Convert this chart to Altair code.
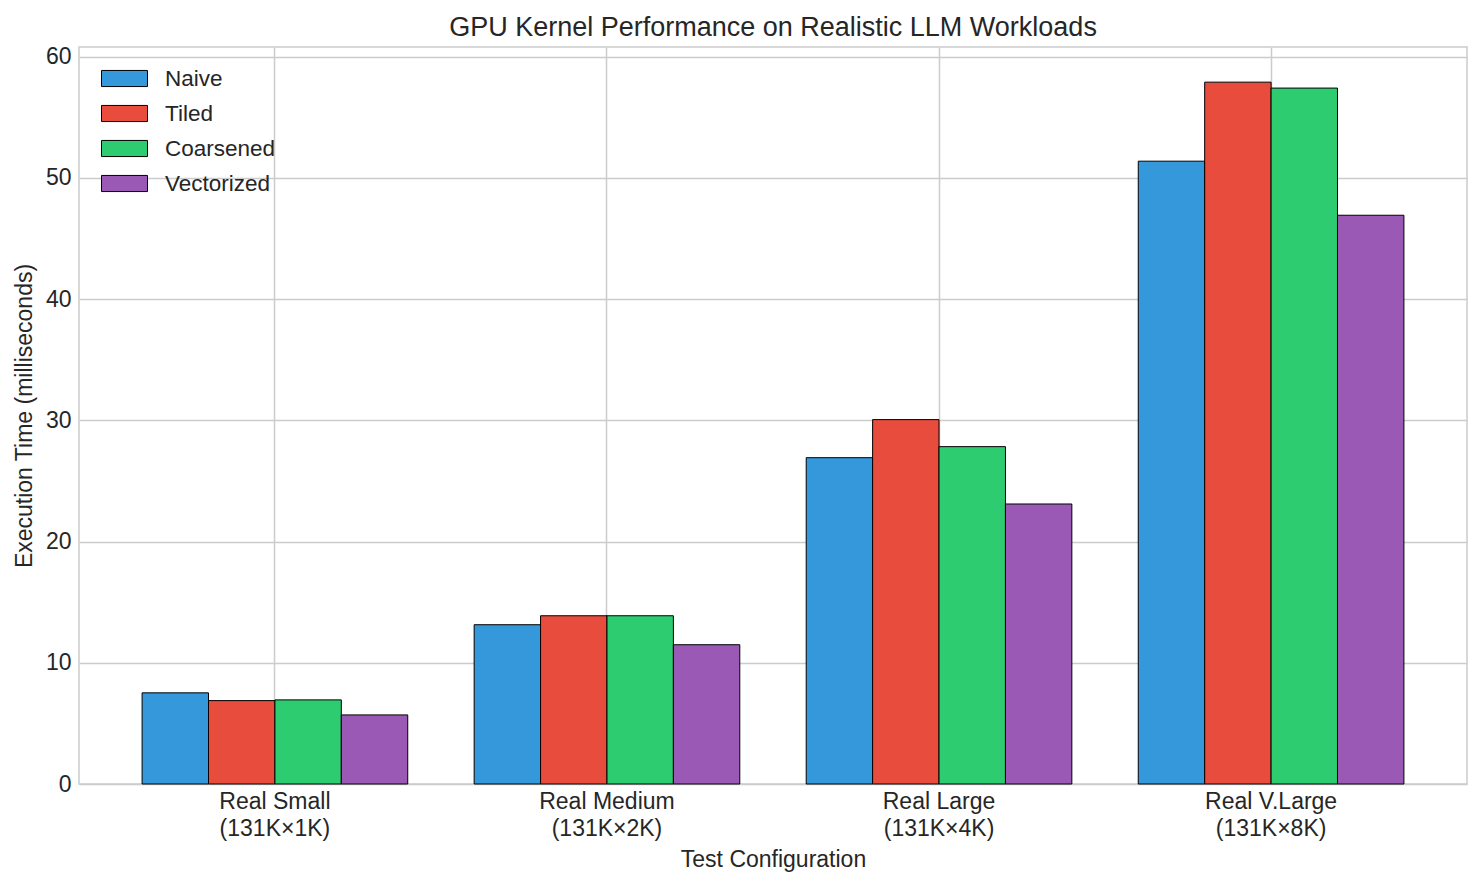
import altair as alt
import pandas as pd

config_names = ["Real Small", "Real Medium", "Real Large", "Real V.Large"]
config_sizes = ["(131K×1K)", "(131K×2K)", "(131K×4K)", "(131K×8K)"]
kernels = ["Naive", "Tiled", "Coarsened", "Vectorized"]
naive = [7.52, 13.14, 26.92, 51.38]
tiled = [6.88, 13.88, 30.06, 57.90]
coarsened = [6.94, 13.88, 27.83, 57.41]
vectorized = [5.70, 11.49, 23.10, 46.92]
colors = ["#3498db", "#e74c3c", "#2ecc71", "#9b59b6"]
y_ticks = [0, 10, 20, 30, 40, 50, 60]

configs = [f"{n}\n{s}" for n, s in zip(config_names, config_sizes)]
rows = []
for k, vals in zip(kernels, [naive, tiled, coarsened, vectorized]):
    for c, v in zip(configs, vals):
        rows.append({"config": c, "kernel": k, "time": v})
df = pd.DataFrame(rows)

TEXT = "#262626"
GRID = "#cccccc"

chart = alt.Chart(df).mark_bar(stroke="black", strokeWidth=1, opacity=1).encode(
    x=alt.X(
        "config:N", sort=configs, title="Test Configuration",
        scale=alt.Scale(paddingInner=0.2, paddingOuter=0.19),
        axis=alt.Axis(labelAngle=0, labelExpr="split(datum.label, '\\n')",
                      bandPosition=0.5, labelPadding=6, titlePadding=8,
                      labelLineHeight=27),
    ),
    xOffset=alt.XOffset("kernel:N", sort=kernels,
                        scale=alt.Scale(paddingInner=0, paddingOuter=0)),
    y=alt.Y(
        "time:Q", title="Execution Time (milliseconds)",
        scale=alt.Scale(domain=[0, 60.8], nice=False),
        axis=alt.Axis(values=y_ticks, labelPadding=8, titlePadding=9),
    ),
    color=alt.Color(
        "kernel:N", sort=kernels,
        scale=alt.Scale(domain=kernels, range=colors),
        legend=alt.Legend(
            title=None, orient="none", legendX=22, legendY=8,
            symbolType="M-1,-0.35L1,-0.35L1,0.35L-1,0.35Z", symbolSize=2116,
            symbolStrokeColor="black", symbolStrokeWidth=1, symbolOpacity=1,
            labelFontSize=22.5, labelColor=TEXT, labelOffset=17, rowPadding=-0.5,
            padding=0,
        ),
    ),
).properties(
    width=1388, height=737,
    title=alt.TitleParams(
        "GPU Kernel Performance on Realistic LLM Workloads",
        fontSize=27, fontWeight="normal", color=TEXT, offset=4, anchor="middle",
    ),
).configure(
    font="Liberation Sans",
).configure_axis(
    domain=False, ticks=False, grid=True, gridColor=GRID, gridWidth=1.5,
    labelFontSize=23, titleFontSize=23, labelColor=TEXT, titleColor=TEXT,
    titleFontWeight="normal",
).configure_view(
    stroke=GRID, strokeWidth=1.5,
)

chart.save("out.html", embed_options={"renderer": "svg", "actions": False})
